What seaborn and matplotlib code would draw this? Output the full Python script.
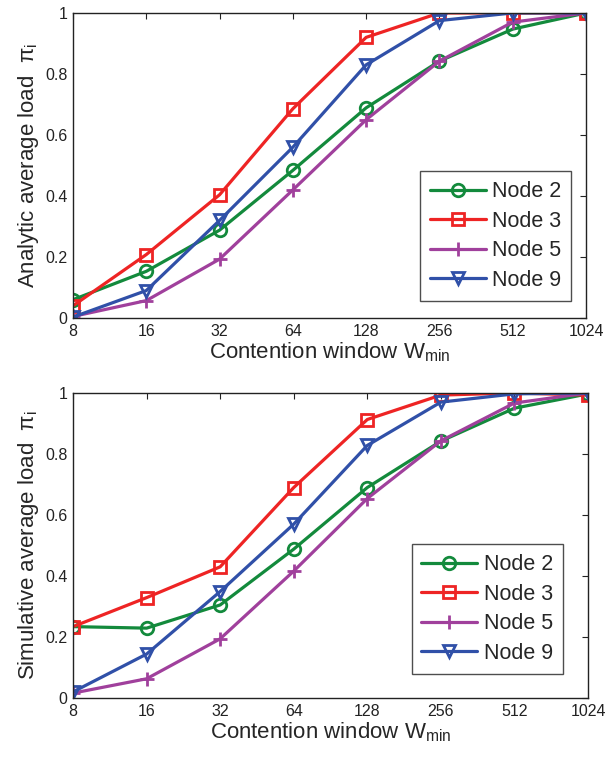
import matplotlib
matplotlib.use("Agg")
import matplotlib.pyplot as plt
import seaborn as sns

# Data
w_min = [8, 16, 32, 64, 128, 256, 512, 1024]
w_labels = ["8", "16", "32", "64", "128", "256", "512", "1024"]
node_names = ["Node 2", "Node 3", "Node 5", "Node 9"]

analytic_node2 = [0.06, 0.153, 0.288, 0.484, 0.689, 0.842, 0.947, 1.0]
analytic_node3 = [0.04, 0.208, 0.404, 0.686, 0.920, 1.0, 1.0, 1.0]
analytic_node5 = [0.005, 0.057, 0.193, 0.420, 0.650, 0.842, 0.970, 1.0]
analytic_node9 = [0.003, 0.090, 0.320, 0.560, 0.830, 0.975, 1.0, 1.0]

sim_node2 = [0.234, 0.229, 0.305, 0.488, 0.690, 0.842, 0.950, 0.997]
sim_node3 = [0.234, 0.329, 0.430, 0.690, 0.913, 0.993, 1.0, 0.993]
sim_node5 = [0.016, 0.063, 0.194, 0.416, 0.654, 0.843, 0.967, 1.0]
sim_node9 = [0.020, 0.144, 0.349, 0.570, 0.828, 0.970, 0.997, 1.0]

colors = ["#138a3c", "#ee2424", "#a0409c", "#3050a8"]
markers = ["o", "s", "+", "v"]

sns.set_style("white")
plt.rcParams["font.family"] = ["Liberation Sans", "DejaVu Sans"]
plt.rcParams["mathtext.default"] = "regular"

fig = plt.figure(figsize=(6.06, 7.62), dpi=100)
ax1 = fig.add_axes([0.1205, 0.5827, 0.8465, 0.4003])
ax2 = fig.add_axes([0.1205, 0.084, 0.8498, 0.4003])


def draw(ax, series, ylabel, leg_anchor):
    for name, vals, c, m in zip(node_names, series, colors, markers):
        sns.lineplot(x=w_min, y=vals, ax=ax, color=c, marker=m, linewidth=2.3,
                     markersize=9 if m != "+" else 10, markerfacecolor="none",
                     markeredgecolor=c, markeredgewidth=2, label=name)
    ax.set_xscale("log", base=2)
    ax.set_xlim(8, 1024)
    ax.set_ylim(0, 1)
    ax.set_xticks(w_min)
    ax.set_xticklabels(w_labels)
    ax.minorticks_off()
    ax.set_yticks([0, 0.2, 0.4, 0.6, 0.8, 1])
    ax.set_yticklabels(["0", "0.2", "0.4", "0.6", "0.8", "1"])
    ax.tick_params(direction="in", length=4, width=0.8, top=True, right=True,
                   labelsize=11.5, colors="#222222", pad=4)
    for sp in ax.spines.values():
        sp.set_color("#222222")
        sp.set_linewidth(1.0)
    ax.set_xlabel("Contention window W$_{min}$", fontsize=16, labelpad=1)
    ax.set_ylabel(ylabel, fontsize=16, labelpad=3)
    leg = ax.legend(loc="lower right", bbox_to_anchor=leg_anchor, fontsize=15.5,
                    frameon=True, fancybox=False, edgecolor="#222222",
                    handlelength=2.6, handletextpad=0.3, borderpad=0.45,
                    labelspacing=0.4, borderaxespad=0)
    leg.get_frame().set_linewidth(1.0)


draw(ax1, [analytic_node2, analytic_node3, analytic_node5, analytic_node9],
     "Analytic average load  $\\pi_i$", (0.971, 0.057))
draw(ax2, [sim_node2, sim_node3, sim_node5, sim_node9],
     "Simulative average load  $\\pi_i$", (0.951, 0.08))

fig.savefig("out.png", dpi=100)
